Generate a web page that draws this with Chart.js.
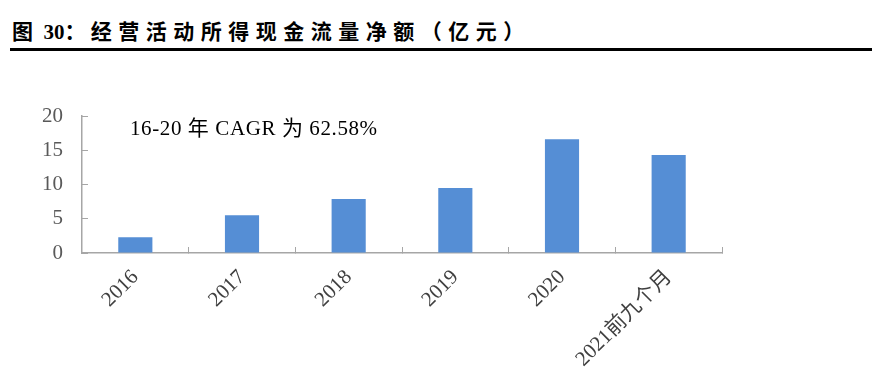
<!DOCTYPE html>
<html>
<head>
<meta charset="utf-8">
<script src="https://cdn.jsdelivr.net/npm/chart.js@4"></script>
<style>
  body { margin: 0; background: #fff; }
  #wrap { position: relative; width: 872px; height: 385px; }
  #title {
    position: absolute; left: 12px; top: 15px;
    font-family: "Liberation Serif", "Noto Sans CJK SC", serif;
    font-weight: bold; font-size: 21px; color: #000; white-space: nowrap;
  }
  #title .wide { letter-spacing: 6.5px; }
  #rule { position: absolute; left: 10px; right: 0; top: 48px; height: 3px; background: #000; }
  canvas { position: absolute; left: 0; top: 0; }
</style>
</head>
<body>
<div id="wrap">
  <div id="title">图&nbsp;&nbsp;30：&nbsp;<span class="wide">经营活动所得现金流量净额（亿元）</span></div>
  <div id="rule"></div>
  <canvas id="cashChart" width="872" height="385"></canvas>
</div>
<script>
// data
const categories = ['2016', '2017', '2018', '2019', '2020', '2021前九个月'];
const cashFlow = [2.3, 5.5, 7.9, 9.5, 16.6, 14.3];
const yTicks = [0, 5, 10, 15, 20];
const noteText = '16-20 年 CAGR 为 62.58%';

const serif = '"Liberation Serif", "Noto Sans CJK SC", serif';

// writes the CAGR note in the top left of the plot
const notePlugin = {
  id: 'note',
  afterDraw(chart) {
    const c = chart.ctx;
    c.save();
    c.font = '21px ' + serif;
    c.letterSpacing = '0.6px';
    c.fillStyle = '#000';
    c.textBaseline = 'middle';
    c.fillText(noteText, 130, 129);
    c.restore();
  }
};

const ctx = document.getElementById('cashChart').getContext('2d');
new Chart(ctx, {
  type: 'bar',
  data: {
    labels: categories,
    datasets: [{
      data: cashFlow,
      backgroundColor: '#558ed5',
      barPercentage: 0.32,
      categoryPercentage: 1
    }]
  },
  options: {
    responsive: false,
    animation: false,
    layout: { padding: { left: 0, top: 116, right: 150, bottom: 0 } },
    plugins: { legend: { display: false }, tooltip: { enabled: false } },
    scales: {
      x: {
        grid: { offset: true, drawOnChartArea: false, tickLength: -6, color: '#a6a6a6' },
        border: { color: '#a6a6a6', width: 1.5 },
        ticks: {
          font: { family: serif, size: 21 },
          color: '#404040',
          maxRotation: 45,
          minRotation: 45,
          padding: 18
        },
        afterFit(scale) { scale.height = 132; }
      },
      y: {
        min: 0,
        max: 20,
        afterBuildTicks(scale) { scale.ticks = yTicks.map(v => ({ value: v })); },
        grid: { drawOnChartArea: false, tickLength: -6, color: '#a6a6a6' },
        border: { color: '#a6a6a6', width: 1.5 },
        ticks: {
          font: { family: serif, size: 21 },
          color: '#595959',
          padding: 25
        },
        afterFit(scale) { scale.width = 82; }
      }
    }
  },
  plugins: [notePlugin]
});
</script>
</body>
</html>
